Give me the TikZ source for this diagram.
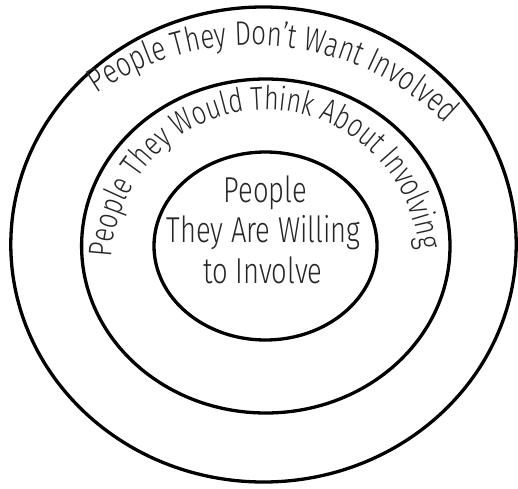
\documentclass[tikz,border=0pt]{standalone}
\usepackage{fontspec}
\newfontfamily\hand{Fira Sans Light}[FakeStretch=0.76]
\usetikzlibrary{decorations.text,calc}
\tikzset{
  ring/.style={draw=black, line width=3.3pt},
  handtext/.style={text=black!85, font=\hand\fontsize{36}{40}\selectfont},
}
\begin{document}
\begin{tikzpicture}[x=1pt,y=1pt]
\useasboundingbox (0,0) rectangle (518,488);
% rings
\coordinate (oc) at (263.5,243.5);
\coordinate (mc) at (265.8,242);
\coordinate (ic) at (265.5,242);
\draw[ring] (oc) ellipse [x radius=252.7, y radius=237.5];
\draw[ring] (mc) ellipse [x radius=184.2, y radius=167];
\draw[ring] (ic) ellipse [x radius=111.5, y radius=94];
% curved labels
\coordinate (otc) at (252.7,167);
\coordinate (mtc) at (265.6,224.3);
\path[decorate, decoration={text along path, text align=center,
  text={|\color{black!85}\hand\fontsize{34}{36}\selectfont|People They Don’t Want Involved}}]
  ($(otc)+(138:276)$) arc[start angle=138, end angle=32, radius=276];
\path[decorate, decoration={text along path, text align=center,
  text={|\color{black!85}\hand\fontsize{33}{36}\selectfont|People They Would Think About Involving}}]
  ($(mtc)+(185:153.8)$) arc[start angle=185, end angle=-2, radius=153.8];
% inner label
\node[handtext, anchor=base] (in1) at (265.5,286) {People};
\node[handtext, anchor=base] (in2) at (263.5,246) {They Are Willing};
\node[handtext, anchor=base] (in3) at (263,205) {to Involve};
\end{tikzpicture}
\end{document}
